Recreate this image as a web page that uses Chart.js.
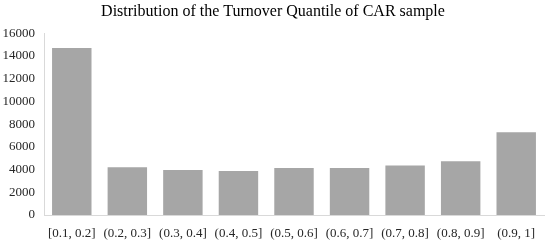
<!DOCTYPE html>
<html>
<head>
<meta charset="utf-8">
<script src="https://cdn.jsdelivr.net/npm/chart.js@4"></script>
<style>
  html, body { margin: 0; padding: 0; background: #fff; }
  canvas { display: block; }
</style>
</head>
<body>
<canvas id="myChart" width="550" height="244"></canvas>
<script>
// turnover quantile buckets and sample counts
const categories = ["[0.1, 0.2]", "(0.2, 0.3]", "(0.3, 0.4]", "(0.4, 0.5]", "(0.5, 0.6]", "(0.6, 0.7]", "(0.7, 0.8]", "(0.8, 0.9]", "(0.9, 1]"]
const counts = [14700, 4200, 3950, 3870, 4130, 4130, 4350, 4730, 7280]
const yTicks = [0, 2000, 4000, 6000, 8000, 10000, 12000, 14000, 16000]

const ctx = document.getElementById('myChart')
new Chart(ctx, {
  type: "bar",
  data: {
    labels: categories,
    datasets: [{
      label: "Count",
      data: counts,
      backgroundColor: "#a6a6a6",
      borderWidth: 0,
      categoryPercentage: 1.0,
      barPercentage: 0.71
    }]
  },
  options: {
    responsive: false,
    animation: false,
    layout: { padding: { left: 2, right: 6, top: 0, bottom: 2 } },
    plugins: {
      legend: { display: false },
      tooltip: { enabled: false },
      title: {
        display: true,
        text: "Distribution of the Turnover Quantile of CAR sample",
        color: "#000",
        font: { family: "Liberation Serif", size: 16, weight: "normal", lineHeight: 1.2 },
        padding: { top: 2, bottom: 12 }
      }
    },
    scales: {
      x: {
        grid: { display: false, drawTicks: false },
        border: { color: "#d9d9d9", width: 1 },
        afterFit: axis => { axis.height = 27 },
        ticks: {
          color: "#262626",
          padding: 11,
          maxRotation: 0,
          autoSkip: false,
          font: { family: "Liberation Serif", size: 13 }
        }
      },
      y: {
        min: 0,
        max: 16000,
        afterBuildTicks: axis => { axis.ticks = yTicks.map(v => ({ value: v })) },
        afterFit: axis => { axis.width = 42 },
        grid: { display: false, drawTicks: false },
        border: { color: "#d9d9d9", width: 1 },
        ticks: {
          color: "#262626",
          padding: 9,
          callback: v => String(v),
          font: { family: "Liberation Serif", size: 13 }
        }
      }
    }
  }
});
</script>
</body>
</html>
